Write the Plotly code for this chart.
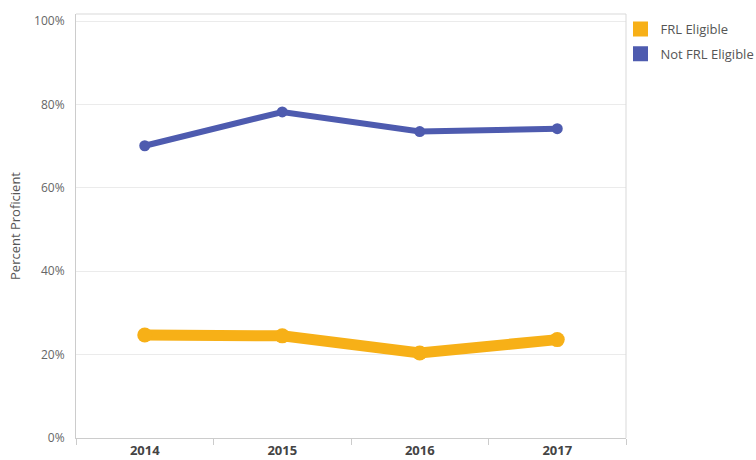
import plotly.graph_objects as go

years = ["2014", "2015", "2016", "2017"]
frl_eligible = [24.7, 24.5, 20.4, 23.6]
not_frl_eligible = [70.1, 78.2, 73.5, 74.2]
y_ticks = [0, 20, 40, 60, 80, 100]
y_tick_labels = ["0%", "20%", "40%", "60%", "80%", "100%"]

orange = "#F7B017"
blue = "#4E5BAF"
font_family = "Open Sans, Noto Sans, sans-serif"

fig = go.Figure()
fig.add_trace(go.Scatter(x=years, y=not_frl_eligible, mode="lines+markers",
                         line=dict(color=blue, width=6), marker=dict(color=blue, size=11),
                         showlegend=False, name="Not FRL Eligible"))
fig.add_trace(go.Scatter(x=years, y=frl_eligible, mode="lines+markers",
                         line=dict(color=orange, width=11), marker=dict(color=orange, size=15),
                         showlegend=False, name="FRL Eligible"))
# legend entries with square swatches
fig.add_trace(go.Scatter(x=[None], y=[None], mode="markers", name="FRL Eligible",
                         legendgroup="a",
                         marker=dict(symbol="square", color=orange, size=15)))
fig.add_trace(go.Scatter(x=[None], y=[None], mode="markers", name="Not FRL Eligible",
                         legendgroup="b",
                         marker=dict(symbol="square", color=blue, size=15)))

fig.update_layout(
    width=756, height=460,
    margin=dict(l=76, r=130, t=14, b=22, autoexpand=False),
    paper_bgcolor="white", plot_bgcolor="white",
    font=dict(family=font_family, color="#555555", size=12),
    legend=dict(x=0.99, y=1.0, xanchor="left", yanchor="top",
                bgcolor="rgba(0,0,0,0)",
                font=dict(size=13, color="#555555"), tracegroupgap=5,
                traceorder="grouped", itemsizing="trace"),
    shapes=[
        dict(type="line", xref="paper", yref="paper", x0=0, x1=1, y0=1, y1=1,
             line=dict(color="#D9D9D9", width=1)),
        dict(type="line", xref="paper", yref="paper", x0=1, x1=1, y0=0, y1=1,
             line=dict(color="#D9D9D9", width=1)),
    ],
)
fig.update_xaxes(type="category", categoryorder="array", categoryarray=years,
                 tickson="boundaries", ticks="outside", ticklen=6, tickcolor="#CCCCCC",
                 showgrid=False, showline=True, linecolor="#CCCCCC", linewidth=1,
                 tickfont=dict(size=13, color="#444444", family="Open Sans, sans-serif", weight="bold"),
                 range=[-0.5, 3.5], automargin=False)
fig.update_yaxes(range=[0, 101.7], tickvals=y_ticks, ticktext=y_tick_labels,
                 showgrid=True, gridcolor="#EBEBEB", gridwidth=1,
                 showline=True, linecolor="#CCCCCC", linewidth=1,
                 zeroline=False, ticks="", ticklabelstandoff=8,
                 tickfont=dict(size=12, color="#666666"), automargin=False,
                 title=dict(text="Percent Proficient", font=dict(size=13, color="#555555"), standoff=10))

fig.write_html("out.html")
